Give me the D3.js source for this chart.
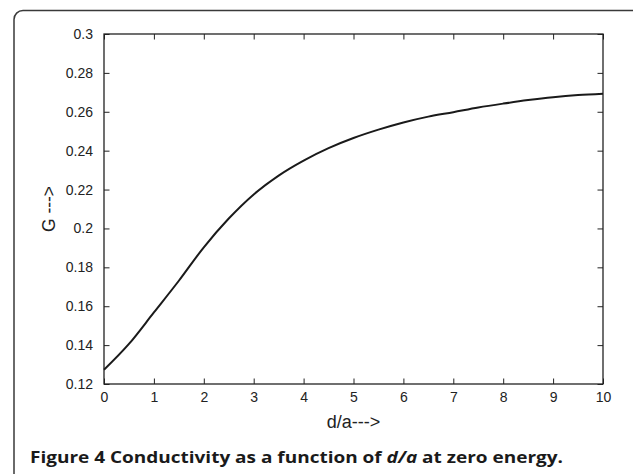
<!DOCTYPE html>
<html>
<head>
<meta charset="utf-8">
<script src="https://cdn.jsdelivr.net/npm/d3@7"></script>
<style>
  html, body { margin: 0; padding: 0; background: #fff; }
  svg { display: block; }
</style>
</head>
<body>
<svg id="chart" width="633" height="474"></svg>
<script>
const dOverA = [0, 0.5, 1, 1.5, 2, 2.5, 3, 3.5, 4, 4.5, 5, 5.5, 6, 6.5, 7, 7.5, 8, 8.5, 9, 9.5, 10];
const conductance = [0.1273, 0.1406, 0.1568, 0.1731, 0.1903, 0.2051, 0.2175, 0.2272, 0.2349, 0.2413, 0.2465, 0.2508, 0.2545, 0.2575, 0.2598, 0.2622, 0.2642, 0.2660, 0.2675, 0.2686, 0.2693];
const xTicks = [0, 1, 2, 3, 4, 5, 6, 7, 8, 9, 10];
const yTicks = [0.12, 0.14, 0.16, 0.18, 0.2, 0.22, 0.24, 0.26, 0.28, 0.3];
const xLabel = "d/a--->";
const yLabel = "G --->";

const svg = d3.select("#chart");
const m = { left: 104, top: 34, right: 603, bottom: 384 };

// outer rounded frame (open at bottom/right, clipped by viewport)
svg.append("rect")
  .attr("x", 14).attr("y", 10.5)
  .attr("width", 660).attr("height", 520)
  .attr("rx", 9).attr("ry", 9)
  .attr("fill", "none").attr("stroke", "#3a3a3a").attr("stroke-width", 1.5);

const x = d3.scaleLinear().domain([0, 10]).range([m.left, m.right]);
const y = d3.scaleLinear().domain([0.12, 0.3]).range([m.bottom, m.top]);

const font = "'Liberation Sans', Arial, Helvetica, sans-serif";
const tickLen = 5.5;

function styleAxis(g) {
  g.attr("font-family", font).attr("font-size", 14);
  g.select(".domain").remove();
  g.selectAll(".tick line").attr("stroke", "#222").attr("stroke-width", 1);
  g.selectAll(".tick text").attr("fill", "#222");
}

// bottom axis
svg.append("g").attr("transform", `translate(0,${m.bottom})`)
  .call(d3.axisBottom(x).tickValues(xTicks).tickFormat(d3.format("d")).tickSizeInner(-tickLen).tickSizeOuter(0).tickPadding(8))
  .call(styleAxis);
// top axis (ticks only)
svg.append("g").attr("transform", `translate(0,${m.top})`)
  .call(d3.axisTop(x).tickValues(xTicks).tickFormat("").tickSizeInner(-tickLen).tickSizeOuter(0))
  .call(styleAxis);
// left axis
svg.append("g").attr("transform", `translate(${m.left},0)`)
  .call(d3.axisLeft(y).tickValues(yTicks).tickFormat(d => String(+d.toFixed(2))).tickSizeInner(-tickLen).tickSizeOuter(0).tickPadding(11))
  .call(styleAxis);
// right axis (ticks only)
svg.append("g").attr("transform", `translate(${m.right},0)`)
  .call(d3.axisRight(y).tickValues(yTicks).tickFormat("").tickSizeInner(-tickLen).tickSizeOuter(0))
  .call(styleAxis);

// plot box
svg.append("rect")
  .attr("x", m.left).attr("y", m.top)
  .attr("width", m.right - m.left).attr("height", m.bottom - m.top)
  .attr("fill", "none").attr("stroke", "#222").attr("stroke-width", 1.3);

// curve
const pts = dOverA.map((d, i) => [d, conductance[i]]);
svg.append("path")
  .datum(pts)
  .attr("fill", "none").attr("stroke", "#1a1a1a").attr("stroke-width", 2)
  .attr("d", d3.line().x(d => x(d[0])).y(d => y(d[1])).curve(d3.curveMonotoneX));

// axis labels
svg.append("text")
  .attr("x", (m.left + m.right) / 2).attr("y", 428)
  .attr("text-anchor", "middle")
  .attr("font-family", font).attr("font-size", 18).attr("fill", "#222")
  .text(xLabel);
svg.append("text")
  .attr("transform", `translate(55,${(m.top + m.bottom) / 2}) rotate(-90)`)
  .attr("text-anchor", "middle")
  .attr("font-family", font).attr("font-size", 17.5).attr("fill", "#222")
  .text(yLabel);

// caption
const cap = svg.append("text")
  .attr("x", 30).attr("y", 463)
  .attr("font-family", "'Open Sans', 'Noto Sans', sans-serif").attr("font-size", 16.5)
  .attr("font-weight", "bold").attr("fill", "#1a1a1a");
cap.append("tspan").text("Figure 4 Conductivity as a function of ");
cap.append("tspan").attr("font-style", "italic").text("d/a");
cap.append("tspan").text(" at zero energy.");
cap.attr("textLength", 533).attr("lengthAdjust", "spacingAndGlyphs");
</script>
</body>
</html>
